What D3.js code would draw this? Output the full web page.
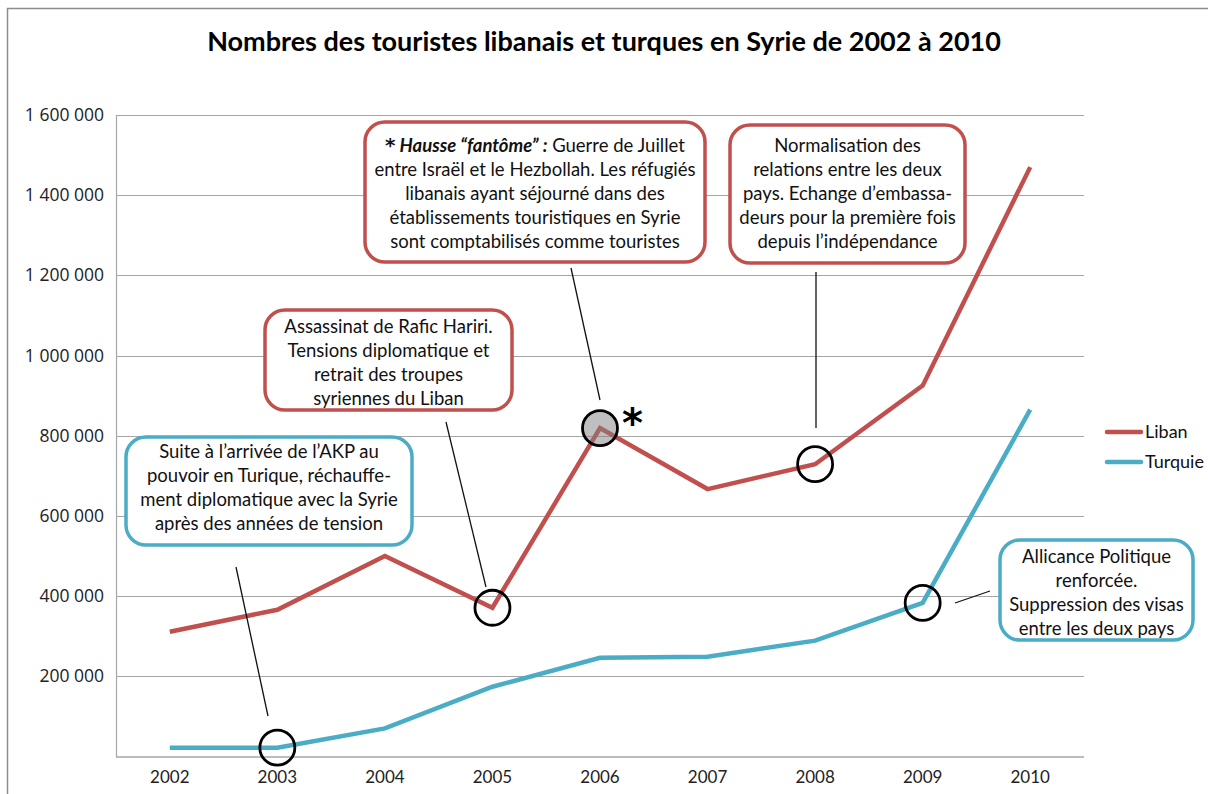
<!DOCTYPE html>
<html><head><meta charset="utf-8">
<script src="https://cdn.jsdelivr.net/npm/d3@7"></script>
<style>
body{margin:0;background:#fff;}
svg{display:block;font-family:Lato, "Open Sans", sans-serif;}
</style></head>
<body>
<svg id="chart" width="1208" height="794"></svg>
<script>
const years = ["2002","2003","2004","2005","2006","2007","2008","2009","2010"];
const liban = [311000, 366000, 500000, 371000, 819000, 667000, 729000, 925000, 1470000];
const turquie = [22000, 22000, 70000, 174000, 246000, 249000, 289000, 383000, 865000];
const yTicks = [200000, 400000, 600000, 800000, 1000000, 1200000, 1400000, 1600000];
const seriesNames = ["Liban", "Turquie"];
const title = "Nombres des touristes libanais et turques en Syrie de 2002 à 2010";

const notes = [
  {series:"Turquie", year:"2003", color:"blue", fill:false,
   lines:["Suite à l’arrivée de l’AKP au","pouvoir en Turique, réchauffe-","ment diplomatique avec la Syrie","après des années de tension"]},
  {series:"Liban", year:"2005", color:"red", fill:false,
   lines:["Assassinat de Rafic Hariri.","Tensions diplomatique et","retrait des troupes","syriennes du Liban"]},
  {series:"Liban", year:"2006", color:"red", fill:true,
   lines:["","entre Israël et le Hezbollah. Les réfugiés","libanais ayant séjourné dans des","établissements touristiques en Syrie","sont comptabilisés comme touristes"]},
  {series:"Liban", year:"2008", color:"red", fill:false,
   lines:["Normalisation des","relations entre les deux","pays. Echange d’embassa-","deurs pour la première fois","depuis l’indépendance"]},
  {series:"Turquie", year:"2009", color:"blue", fill:false,
   lines:["Allicance Politique","renforcée.","Suppression des visas","entre les deux pays"]}
];
// layout of the boxes (box rect + connector segment)
const boxLayout = [
  {x:126, y:437, w:286, h:108, ly:452, lead:[236,567,268,716]},
  {x:265, y:310, w:247, h:100, ly:327, lead:[446,422,486,587]},
  {x:365, y:122, w:340, h:140, ly:146, lead:[571,268,600,400]},
  {x:730, y:125, w:235, h:138, ly:146, lead:[816,272,816,428]},
  {x:1000,y:540, w:193, h:100, ly:557, lead:[955,603,990,591]}
];

const RED = "#c0504d", BLUE = "#4bacc6";
const colors = {Liban:RED, Turquie:BLUE};
const svg = d3.select("#chart");

// border
svg.append("path").attr("d","M7.5,800 L7.5,8.5 L1220,8.5").attr("fill","none").attr("stroke","#8c8c8c").attr("stroke-width",1.5);

const x = d3.scaleBand().domain(years).range([116,1084]);
const y = d3.scaleLinear().domain([0,1600000]).range([756.5,115]);
const loc = d3.formatLocale({decimal:",", thousands:" ", grouping:[3], currency:["",""]});
const fmt = loc.format(",d");

// gridlines
svg.append("g").selectAll("line").data(yTicks).join("line")
  .attr("x1",116).attr("x2",1084).attr("y1",d=>Math.round(y(d))+0.5).attr("y2",d=>Math.round(y(d))+0.5)
  .attr("stroke","#a6a6a6").attr("stroke-width",1.2);
// axes
const yAxis = svg.append("g").attr("transform","translate(116,0)")
  .call(d3.axisLeft(y).tickValues(yTicks).tickFormat(fmt).tickSize(0).tickPadding(12));
yAxis.select(".domain").attr("stroke","#a6a6a6").attr("stroke-width",1.2);
yAxis.selectAll("text").attr("font-size",17.5).attr("fill","#222").attr("font-family","'Open Sans', sans-serif");
svg.append("line").attr("x1",116).attr("x2",1084).attr("y1",757).attr("y2",757).attr("stroke","#a6a6a6").attr("stroke-width",1.5);
const xAxis = svg.append("g").attr("transform","translate(0,757)")
  .call(d3.axisBottom(x).tickSize(0).tickPadding(12));
xAxis.select(".domain").remove();
xAxis.selectAll("text").attr("font-size",17).attr("fill","#222").attr("font-family","Lato, sans-serif").attr("dy","0.85em");

// title
svg.append("text").attr("x",604).attr("y",51).attr("text-anchor","middle")
  .attr("font-size",27).attr("font-weight","bold").attr("fill","#000").text(title);

// lines
const cx = d => x(d) + x.bandwidth()/2;
const data = {Liban:liban, Turquie:turquie};
const line = d3.line().x((d,i)=>cx(years[i])).y(d=>y(d));
seriesNames.forEach(s=>{
  svg.append("path").datum(data[s]).attr("d",line).attr("fill","none")
    .attr("stroke",colors[s]).attr("stroke-width",4.5).attr("stroke-linejoin","miter");
});

// annotations
notes.forEach((n,i)=>{
  const b = boxLayout[i];
  const px = cx(n.year), py = y(data[n.series][years.indexOf(n.year)]);
  const col = n.color==="red"?RED:BLUE;
  svg.append("line").attr("x1",b.lead[0]).attr("y1",b.lead[1])
    .attr("x2",b.lead[2]).attr("y2",b.lead[3]).attr("stroke","#111").attr("stroke-width",1.3);
  svg.append("circle").attr("cx",px).attr("cy",py).attr("r",17.5)
    .attr("fill",n.fill?"rgba(128,128,128,0.5)":"none").attr("stroke","#000").attr("stroke-width",2.8);
  svg.append("rect").attr("x",b.x).attr("y",b.y).attr("width",b.w).attr("height",b.h)
    .attr("rx",20).attr("ry",20).attr("fill","#fff").attr("stroke",col).attr("stroke-width",3.5);
  const t = svg.append("text").attr("font-size",18.5).attr("fill","#111").attr("text-anchor","middle");
  n.lines.forEach((l,j)=>{
    t.append("tspan").attr("x",b.x+b.w/2).attr("y",b.ly + j*24 + 6).text(l);
  });
  if(n.fill){
    const first = t.select("tspan");
    first.append("tspan").attr("font-weight","bold").attr("font-family","'DejaVu Sans', sans-serif").attr("font-size",20).text("*");
    first.append("tspan").attr("font-weight","bold").attr("font-style","italic").text(" Hausse “fantôme” :");
    first.append("tspan").text(" Guerre de Juillet");
  }
});
// asterisk
svg.append("text").attr("x",622).attr("y",437).attr("font-size",40).attr("font-weight","bold")
  .attr("font-family","'DejaVu Sans', sans-serif").text("*");

// legend
seriesNames.forEach((s,i)=>{
  const g = svg.append("g").attr("transform",`translate(1107,${432+i*30})`);
  g.append("line").attr("x1",0).attr("x2",34).attr("stroke",colors[s]).attr("stroke-width",4.5).attr("stroke-linecap","round");
  g.append("text").attr("x",38).attr("y",6).attr("font-size",18).attr("fill","#111").text(s);
});
</script>
</body></html>
